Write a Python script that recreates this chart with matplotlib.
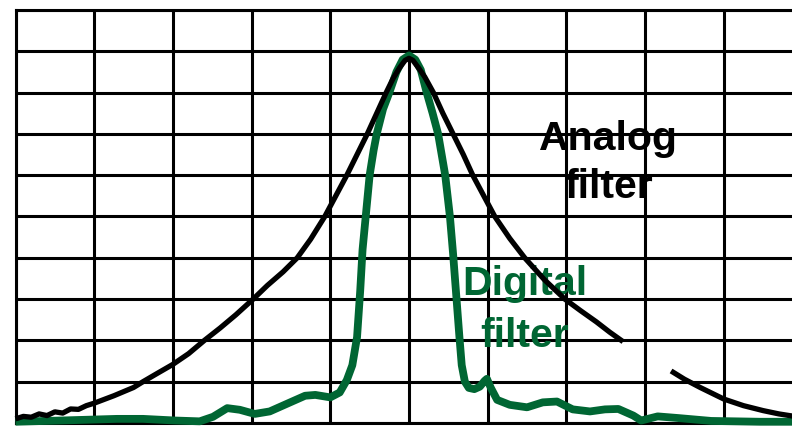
import numpy as np
import matplotlib
matplotlib.use("Agg")
import matplotlib.pyplot as plt

# ---- data ----
analog_x = [-5.0, -4.9, -4.8, -4.7, -4.6, -4.5, -4.4, -4.3, -4.2, -4.1, -4.0,
            -3.75, -3.5, -3.38, -3.2, -3.0, -2.8, -2.6, -2.4, -2.2, -1.98,
            -1.8, -1.6, -1.42, -1.25, -1.07, -0.93, -0.79, -0.66, -0.53, -0.41,
            -0.29, -0.2, -0.12, -0.05, 0.0,
            0.05, 0.12, 0.2, 0.31, 0.43, 0.56, 0.69, 0.81, 0.95, 1.09,
            1.28, 1.47, 1.72, 1.98, 2.18, 2.38, 2.55, 2.72,
            3.0, 3.33, 3.5, 3.7, 3.85, 4.0, 4.25, 4.5, 4.7, 4.9]
analog_y = [0.10, 0.16, 0.14, 0.22, 0.18, 0.27, 0.24, 0.34, 0.33, 0.42, 0.48,
            0.66, 0.86, 1.0, 1.2, 1.42, 1.68, 2.0, 2.3, 2.62, 3.0,
            3.33, 3.66, 4.0, 4.45, 5.0, 5.5, 6.0, 6.5, 7.0, 7.5,
            8.0, 8.35, 8.6, 8.78, 8.83,
            8.78, 8.6, 8.38, 8.0, 7.5, 7.0, 6.5, 6.0, 5.5, 5.0,
            4.47, 4.0, 3.47, 3.0, 2.72, 2.45, 2.2, 1.97,
            np.nan, 1.26, 1.06, 0.86, 0.72, 0.58, 0.42, 0.30, 0.22, 0.16]

digital_x = [-5.0, -4.43, -3.71, -3.38, -2.97, -2.66, -2.49, -2.31, -2.15, -1.96,
             -1.77, -1.51, -1.32, -1.19, -1.0, -0.88, -0.79, -0.72, -0.66, -0.62,
             -0.59, -0.55, -0.50, -0.45, -0.41, -0.33, -0.25, -0.16, -0.08, 0.0,
             0.08, 0.15, 0.225, 0.30, 0.37, 0.46, 0.52, 0.56, 0.60, 0.64,
             0.67, 0.71, 0.76, 0.83, 0.90, 0.96, 0.99, 1.04, 1.12,
             1.28, 1.50, 1.70, 1.88, 2.08, 2.30, 2.49, 2.66, 2.85, 2.95,
             3.16, 3.42, 3.84, 4.46, 4.9]
digital_y = [0.03, 0.06, 0.10, 0.10, 0.06, 0.04, 0.15, 0.36, 0.32, 0.22,
             0.28, 0.50, 0.66, 0.68, 0.62, 0.74, 1.04, 1.4, 2.08, 3.2,
             4.2, 5.0, 6.0, 6.6, 7.0, 7.6, 8.0, 8.5, 8.8, 8.9,
             8.8, 8.55, 8.0, 7.5, 7.0, 6.0, 5.0, 4.1, 3.1, 2.1,
             1.4, 1.0, 0.85, 0.82, 0.88, 1.02, 1.07, 0.85, 0.56,
             0.44, 0.38, 0.50, 0.52, 0.33, 0.28, 0.33, 0.34, 0.18, 0.06,
             0.16, 0.12, 0.05, 0.03, 0.03]

x_ticks = list(range(-5, 6))
y_ticks = list(range(0, 11))

analog_label = ["Analog", "filter"]
digital_label = ["Digital", "filter"]

GREEN = "#006633"

W, H = 792, 426
fig = plt.figure(figsize=(W / 100, H / 100), dpi=100)
# left edge at px 15.5, x spacing 78.7 px (right edge beyond the image)
ax = fig.add_axes([15.5 / W, 3 / H, 787 / W, 413 / H])
ax.set_xlim(-5, 5)
ax.set_ylim(0, 10)
ax.set_xticks(x_ticks)
ax.set_yticks(y_ticks)
ax.tick_params(length=0, labelbottom=False, labelleft=False)
ax.grid(True, color="black", linewidth=2.2)
ax.set_axisbelow(True)
for s in ax.spines.values():
    s.set_linewidth(2.2)
    s.set_color("black")

ax.plot(digital_x, digital_y, color=GREEN, linewidth=5.6, zorder=3,
        solid_capstyle="butt", solid_joinstyle="round", clip_on=False)
ax.plot(analog_x, analog_y, color="black", linewidth=3.8, zorder=4,
        solid_capstyle="butt", solid_joinstyle="round", clip_on=False)

font = dict(family=["Liberation Sans", "DejaVu Sans"], weight="bold", size=29.5)
ax.text(2.535, 6.61, analog_label[0], ha="center", va="baseline", color="black", zorder=3.5, **font)
ax.text(2.535, 5.45, analog_label[1], ha="center", va="baseline", color="black", zorder=3.5, **font)
ax.text(1.474, 3.10, digital_label[0], ha="center", va="baseline", color=GREEN, zorder=3.5, **font)
ax.text(1.474, 1.84, digital_label[1], ha="center", va="baseline", color=GREEN, zorder=3.5, **font)

fig.savefig("out.png", dpi=100)
